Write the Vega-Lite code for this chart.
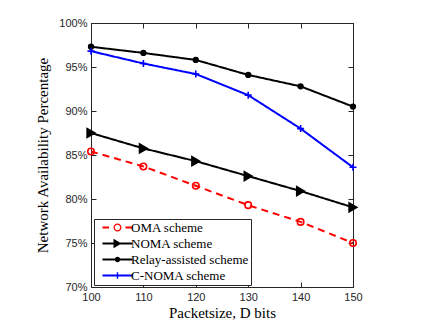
{
  "$schema": "https://vega.github.io/schema/vega-lite/v6.json",
  "width": 262,
  "height": 264,
  "autosize": "none",
  "padding": {"left": 91, "top": 23, "right": 76, "bottom": 35},
  "background": "white",
  "config": {
    "view": {"stroke": "#262626", "strokeWidth": 1},
    "axis": {
      "grid": false,
      "domainColor": "#262626",
      "tickColor": "#262626",
      "labelFont": "Liberation Sans",
      "labelFontSize": 11,
      "labelColor": "#262626",
      "labelFlush": false,
      "titleFont": "Liberation Serif",
      "titleFontSize": 15,
      "titleFontWeight": "normal",
      "titleColor": "#000000",
      "tickSize": -5,
      "labelPadding": 9
    }
  },
  "data": {"values": [
    {"x": 100, "y": 85.4, "scheme": "OMA scheme"},
    {"x": 110, "y": 83.7, "scheme": "OMA scheme"},
    {"x": 120, "y": 81.5, "scheme": "OMA scheme"},
    {"x": 130, "y": 79.3, "scheme": "OMA scheme"},
    {"x": 140, "y": 77.4, "scheme": "OMA scheme"},
    {"x": 150, "y": 75.0, "scheme": "OMA scheme"},
    {"x": 100, "y": 87.5, "scheme": "NOMA scheme"},
    {"x": 110, "y": 85.75, "scheme": "NOMA scheme"},
    {"x": 120, "y": 84.3, "scheme": "NOMA scheme"},
    {"x": 130, "y": 82.6, "scheme": "NOMA scheme"},
    {"x": 140, "y": 80.9, "scheme": "NOMA scheme"},
    {"x": 150, "y": 79.05, "scheme": "NOMA scheme"},
    {"x": 100, "y": 97.3, "scheme": "Relay-assisted scheme"},
    {"x": 110, "y": 96.6, "scheme": "Relay-assisted scheme"},
    {"x": 120, "y": 95.8, "scheme": "Relay-assisted scheme"},
    {"x": 130, "y": 94.1, "scheme": "Relay-assisted scheme"},
    {"x": 140, "y": 92.8, "scheme": "Relay-assisted scheme"},
    {"x": 150, "y": 90.5, "scheme": "Relay-assisted scheme"},
    {"x": 100, "y": 96.8, "scheme": "C-NOMA scheme"},
    {"x": 110, "y": 95.4, "scheme": "C-NOMA scheme"},
    {"x": 120, "y": 94.2, "scheme": "C-NOMA scheme"},
    {"x": 130, "y": 91.8, "scheme": "C-NOMA scheme"},
    {"x": 140, "y": 88.0, "scheme": "C-NOMA scheme"},
    {"x": 150, "y": 83.6, "scheme": "C-NOMA scheme"}
  ]},
  "layer": [
    {
      "mark": {"type": "line", "strokeWidth": 2},
      "encoding": {
        "x": {"field": "x", "type": "quantitative", "scale": {"domain": [100, 150], "nice": false},
              "axis": {"values": [100, 110, 120, 130, 140, 150], "title": "Packetsize, D bits", "titlePadding": 3}},
        "y": {"field": "y", "type": "quantitative", "scale": {"domain": [70, 100], "nice": false, "zero": false},
              "axis": {"values": [70, 75, 80, 85, 90, 95, 100], "labelExpr": "datum.value + '%'", "title": "Network Availability Percentage", "titlePadding": 8}},
        "color": {"field": "scheme", "type": "nominal",
          "scale": {"domain": ["OMA scheme", "NOMA scheme", "Relay-assisted scheme", "C-NOMA scheme"], "range": ["#ff0000", "#000000", "#000000", "#0000ff"]},
          "legend": {
            "title": null,
            "orient": "none",
            "legendX": 3,
            "legendY": 196,
            "padding": 2,
            "rowPadding": 2,
            "symbolSize": 4,
            "labelOffset": 22,
            "labelFont": "Liberation Serif",
            "labelFontSize": 13,
            "labelColor": "#000000",
            "fillColor": "#ffffff",
            "strokeColor": "#262626",
            "encode": {"symbols": {"update": {
              "shape": {"signal": "datum.value === 'OMA scheme' ? 'M0,-0.9H6.5V0.9H0Z M23,-0.9H30V0.9H23Z M19,0A4,4 0 1,0 11,0A4,4 0 1,0 19,0Z M17.7,0A2.7,2.7 0 1,1 12.3,0A2.7,2.7 0 1,1 17.7,0Z' : datum.value === 'NOMA scheme' ? 'M0,-0.9H30V0.9H0Z M11,-4.8L19,0L11,4.8Z' : datum.value === 'Relay-assisted scheme' ? 'M0,-0.9H30V0.9H0Z M17.7,0A2.7,2.7 0 1,1 12.3,0A2.7,2.7 0 1,1 17.7,0Z' : 'M0,-0.9H30V0.9H0Z M14.3,-3.2H15.7V3.2H14.3Z M11.8,-0.9H18.2V0.9H11.8Z'"},
              "fill": {"signal": "datum.value === 'OMA scheme' ? '#ff0000' : datum.value === 'C-NOMA scheme' ? '#0000ff' : '#000000'"},
              "fillOpacity": {"value": 1},
              "stroke": {"value": "transparent"},
              "strokeWidth": {"value": 0},
              "opacity": {"value": 1}
            }}}
          }},
        "strokeDash": {"field": "scheme", "type": "nominal",
          "scale": {"domain": ["C-NOMA scheme", "NOMA scheme", "OMA scheme", "Relay-assisted scheme"], "range": [[1, 0], [1, 0], [7, 5], [1, 0]]},
          "legend": null}
      }
    },
    {
      "mark": {"type": "point", "filled": true, "strokeWidth": 1.6, "opacity": 1},
      "encoding": {
        "x": {"field": "x", "type": "quantitative", "axis": {"orient": "top", "values": [100, 110, 120, 130, 140, 150], "labels": false, "title": null}},
        "y": {"field": "y", "type": "quantitative", "axis": {"orient": "right", "values": [70, 75, 80, 85, 90, 95, 100], "labels": false, "title": null}},
        "shape": {"field": "scheme", "type": "nominal",
          "scale": {"domain": ["C-NOMA scheme", "NOMA scheme", "OMA scheme", "Relay-assisted scheme"], "range": ["M-1,0H1M0,-1V1", "triangle-right", "circle", "circle"]},
          "legend": null},
        "size": {"field": "scheme", "type": "nominal",
          "scale": {"type": "ordinal", "domain": ["C-NOMA scheme", "NOMA scheme", "OMA scheme", "Relay-assisted scheme"], "range": [49, 80, 42, 22]},
          "legend": null},
        "fill": {"field": "scheme", "type": "nominal",
          "scale": {"domain": ["C-NOMA scheme", "NOMA scheme", "OMA scheme", "Relay-assisted scheme"], "range": ["#0000ff", "#000000", "transparent", "#000000"]},
          "legend": null},
        "stroke": {"field": "scheme", "type": "nominal",
          "scale": {"domain": ["C-NOMA scheme", "NOMA scheme", "OMA scheme", "Relay-assisted scheme"], "range": ["#0000ff", "#000000", "#ff0000", "#000000"]},
          "legend": null}
      }
    }
  ],
  "resolve": {"axis": {"x": "independent", "y": "independent"}}
}
